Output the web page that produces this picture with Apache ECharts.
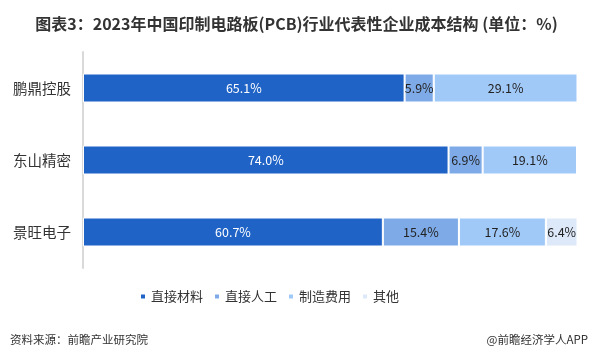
<!DOCTYPE html>
<html>
<head>
<meta charset="utf-8">
<script src="https://cdn.jsdelivr.net/npm/echarts@6/dist/echarts.min.js"></script>
<style>
  html, body { margin: 0; padding: 0; background: #fff; }
  #chart { width: 593px; height: 355px; }
</style>
</head>
<body>
<div id="chart"></div>
<script>
// 数据
const companies = ['鹏鼎控股', '东山精密', '景旺电子']
const seriesNames = ['直接材料', '直接人工', '制造费用', '其他']
const material = [65.1, 74.0, 60.7]
const labor = [5.9, 6.9, 15.4]
const overhead = [29.1, 19.1, 17.6]
const other = [0, 0, 6.4]

const colors = ['#1f63c6', '#7eabe8', '#a1c9f8', '#dde8f8']
const labelColors = ['#fff', '#222', '#222', '#222']
const font = '"Noto Sans CJK SC", "Microsoft YaHei", sans-serif'

const makeSeries = (name, data, i) => ({
    name: name,
    type: 'bar',
    stack: 'total',
    barWidth: 29,
    data: data,
    itemStyle: { color: colors[i], borderColor: '#fff', borderWidth: 1 },
    label: {
        show: true,
        position: 'inside',
        color: labelColors[i],
        fontSize: 12.5,
        fontFamily: font,
        formatter: p => p.value > 0 ? p.value.toFixed(1) + '%' : ''
    }
})

const option = {
    animation: false,
    title: [
        {
            text: '图表3：2023年中国印制电路板(PCB)行业代表性企业成本结构 (单位：%)',
            left: 'center',
            top: 11,
            textStyle: { fontSize: 16, fontWeight: 'bold', color: '#333', fontFamily: font }
        },
        {
            text: '资料来源：前瞻产业研究院',
            left: 5,
            top: 329,
            textStyle: { fontSize: 11.5, fontWeight: 'normal', color: '#333', fontFamily: font }
        },
        {
            text: '@前瞻经济学人APP',
            right: 0,
            top: 329,
            textStyle: { fontSize: 11.5, fontWeight: 'normal', color: '#333', fontFamily: font }
        }
    ],
    legend: {
        data: seriesNames,
        bottom: 47,
        left: 134,
        itemWidth: 6,
        itemHeight: 6,
        itemGap: 10,
        icon: 'rect',
        textStyle: { fontSize: 13, color: '#333', fontFamily: font }
    },
    grid: { left: 83, right: 16, top: 52, bottom: 87 },
    xAxis: {
        type: 'value',
        min: 0,
        max: 100,
        show: false
    },
    yAxis: {
        type: 'category',
        data: companies,
        inverse: true,
        axisLine: { show: true, lineStyle: { color: '#d9d9d9', width: 2 } },
        axisTick: { show: false },
        axisLabel: { fontSize: 14.5, color: '#333', margin: 12, fontFamily: font }
    },
    series: [
        makeSeries(seriesNames[0], material, 0),
        makeSeries(seriesNames[1], labor, 1),
        makeSeries(seriesNames[2], overhead, 2),
        makeSeries(seriesNames[3], other, 3)
    ]
}

const chart = echarts.init(document.getElementById('chart'))
chart.setOption(option)
</script>
</body>
</html>
